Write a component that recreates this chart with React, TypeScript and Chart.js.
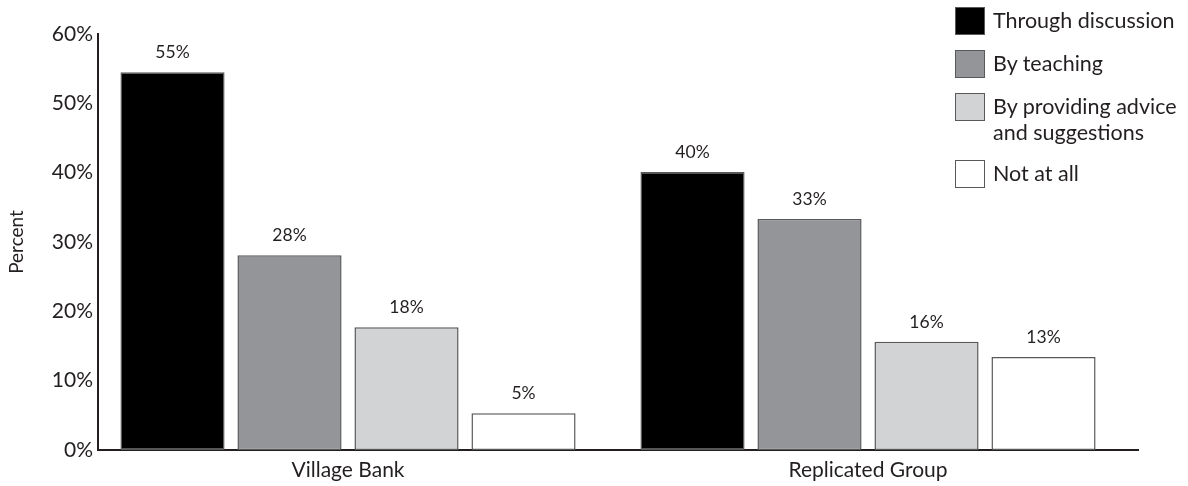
import React, { useEffect, useRef } from "react";
import { Chart, registerables } from "chart.js";

Chart.register(...registerables);

// ---- data ----
const categories = ["Village Bank", "Replicated Group"];
const seriesNames = ["Through discussion", "By teaching", "By providing advice and suggestions", "Not at all"];
const legendLines = [["Through discussion"], ["By teaching"], ["By providing advice", "and suggestions"], ["Not at all"]];
const throughDiscussion = [54.5, 40.1];
const byTeaching = [28.1, 33.3];
const byAdvice = [17.7, 15.6];
const notAtAll = [5.3, 13.4];
const valueLabels = [
  ["55%", "40%"],
  ["28%", "33%"],
  ["18%", "16%"],
  ["5%", "13%"],
];
const yMax = 60;
const yStep = 10;
const yTitle = "Percent";

// ---- styles ----
const seriesColors = ["#000000", "#939598", "#d1d3d4", "#ffffff"];
const FONT = "Lato, 'Open Sans', sans-serif";
const TEXT = "#231f20";
const GROUP_SHIFT = 0.0192; // category units the bar groups sit left of centre

const shiftPlugin = {
  id: "groupShift",
  afterLayout(chart: any) {
    const x = chart.scales.x;
    x._startValue += GROUP_SHIFT;
  },
};

const valueLabelPlugin = {
  id: "valueLabels",
  afterDatasetsDraw(chart: any) {
    const ctx = chart.ctx;
    ctx.save();
    ctx.font = `17.5px ${FONT}`;
    ctx.fillStyle = TEXT;
    ctx.textAlign = "center";
    ctx.textBaseline = "alphabetic";
    chart.data.datasets.forEach((_: any, di: number) => {
      const meta = chart.getDatasetMeta(di);
      meta.data.forEach((el: any, i: number) => {
        ctx.fillText(valueLabels[di][i], el.x, el.y - 14);
      });
    });
    ctx.restore();
  },
};

export default function App() {
  const ref = useRef<HTMLCanvasElement>(null);

  useEffect(() => {
    const series = [throughDiscussion, byTeaching, byAdvice, notAtAll];
    const chart = new Chart(ref.current as HTMLCanvasElement, {
      type: "bar",
      data: {
        labels: categories,
        datasets: series.map((d, i) => ({
          label: seriesNames[i],
          data: d,
          backgroundColor: seriesColors[i],
          borderColor: "#58595b",
          borderWidth: 1.5,
          borderSkipped: false,
          categoryPercentage: 0.9,
          barPercentage: 0.89,
        })),
      },
      options: {
        animation: false,
        responsive: false,
        devicePixelRatio: 1,
        layout: { padding: { left: 0, right: 50, top: 34, bottom: 0 } },
        plugins: {
          legend: { display: false },
          tooltip: { enabled: false },
        },
        scales: {
          x: {
            grid: { display: false, drawTicks: false },
            border: { display: true, color: "#231f20", width: 2 },
            ticks: { color: TEXT, font: { family: FONT, size: 21 }, padding: 8, maxRotation: 0 },
            afterFit: (s: any) => {
              s.height = 36;
            },
          },
          y: {
            min: 0,
            max: yMax,
            grid: { display: false, drawTicks: false },
            border: { display: true, color: "#231f20", width: 2 },
            ticks: {
              stepSize: yStep,
              color: TEXT,
              font: { family: FONT, size: 21 },
              padding: 5,
              callback: (v: any) => `${v}%`,
            },
            title: {
              display: true,
              text: yTitle,
              color: TEXT,
              font: { family: FONT, size: 19 },
              padding: { top: 5, bottom: 0 },
            },
            afterFit: (s: any) => {
              s.width = 98;
            },
          },
        },
      },
      plugins: [shiftPlugin, valueLabelPlugin],
    });
    return () => chart.destroy();
  }, []);

  return (
    <div style={{ position: "absolute", left: 0, top: 0, width: 1188, height: 486, background: "#fff" }}>
      <canvas ref={ref} width={1188} height={486} style={{ display: "block", width: 1188, height: 486 }} />
      <div style={{ position: "absolute", left: 955, top: 7, fontFamily: FONT, fontSize: 21.5, color: TEXT }}>
        {legendLines.map((lines, i) => (
          <div key={i} style={{ display: "flex", alignItems: "flex-start", marginBottom: 15 }}>
            <div
              style={{
                width: 28,
                height: 26,
                background: seriesColors[i],
                border: "1.5px solid #58595b",
                flex: "none",
              }}
            />
            <div style={{ marginLeft: 8, lineHeight: "26px", whiteSpace: "nowrap" }}>
              {lines.map((l, j) => (
                <div key={j}>{l}</div>
              ))}
            </div>
          </div>
        ))}
      </div>
    </div>
  );
}
